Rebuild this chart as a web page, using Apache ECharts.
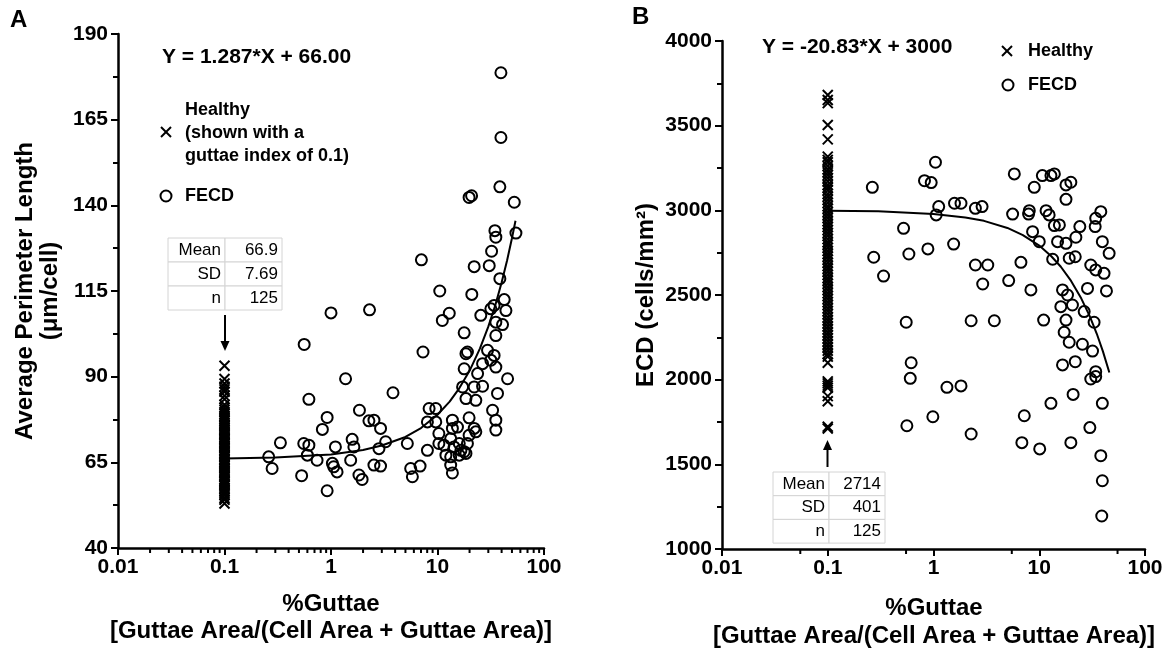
<!DOCTYPE html>
<html>
<head>
<meta charset="utf-8">
<script src="https://cdn.jsdelivr.net/npm/echarts@6/dist/echarts.min.js"></script>
<style>
  html, body { margin: 0; padding: 0; background: #fff; }
  #chart { width: 1168px; height: 653px; }
</style>
</head>
<body>
<div id="chart"></div>
<script>
// ---- data ----
// panel A: average perimeter length vs %guttae
const healthyA = [93.2, 89.3, 88.0, 87.1, 86.3, 85.6, 84.4, 83.4, 81.8, 81.0, 80.3, 79.7, 79.1, 78.4, 78.0, 77.5,
  77.1, 76.4, 76.0, 75.7, 75.1, 74.6, 74.3, 73.7, 73.2, 72.9, 72.3, 71.9, 71.6, 71.0, 70.6, 70.3, 69.7, 69.3,
  69.0, 68.5, 68.2, 67.6, 67.2, 66.9, 66.6, 66.0, 65.6, 65.2, 64.9, 64.3, 64.0, 63.5, 63.2, 62.6, 62.2, 61.9,
  61.3, 60.9, 60.6, 60.0, 59.5, 59.2, 58.6, 58.2, 57.5, 57.1, 56.4, 55.9, 55.4, 54.6, 54.1, 53.0];
const fecdA = [
  [39.4, 178.7], [39.4, 159.8], [38.5, 145.4], [19.8, 142.3], [20.9, 142.8], [52.6, 140.9], [34.6, 132.6],
  [35.3, 130.7], [54.5, 131.9], [32.2, 126.6], [7.06, 124.1], [22.1, 122.1], [30.6, 122.4], [38.5, 118.6],
  [10.5, 115.0], [21.0, 114.0], [42.3, 112.5], [34.0, 110.8], [43.9, 109.3], [25.5, 107.9], [31.7, 109.8],
  [12.9, 108.5], [11.1, 106.4], [35.3, 105.9], [40.8, 105.2], [35.3, 102.0], [17.8, 102.8], [1.0, 108.6],
  [2.3, 109.5], [0.56, 99.4], [7.31, 97.2], [19.1, 97.2], [18.5, 96.7], [29.5, 97.7], [34.0, 96.2],
  [31.7, 94.8], [17.8, 92.3], [23.8, 90.9], [35.3, 92.8], [26.5, 93.8], [45.5, 89.4], [1.37, 89.4],
  [0.62, 83.4], [3.82, 85.3], [17.2, 87.0], [22.1, 87.0], [26.5, 87.2], [18.5, 83.6], [22.9, 83.1],
  [36.6, 85.1], [32.9, 80.2], [35.3, 77.3], [35.3, 74.4], [1.85, 80.2], [8.34, 80.7], [9.63, 80.7],
  [8.04, 76.8], [9.63, 76.8], [13.8, 77.3], [19.8, 78.0], [0.92, 78.1], [0.83, 74.6], [2.27, 77.1],
  [2.53, 77.3], [2.92, 74.9], [13.8, 74.9], [15.4, 75.3], [22.1, 74.9], [22.9, 73.9], [19.8, 72.9],
  [0.335, 70.7], [0.555, 70.5], [0.62, 70.0], [1.1, 69.5], [1.58, 71.7], [1.64, 69.5], [3.26, 71.0],
  [2.82, 69.0], [5.21, 70.5], [10.3, 73.4], [10.3, 70.5], [11.5, 70.0], [13.3, 71.9], [16.0, 70.5],
  [14.3, 69.5], [16.6, 68.5], [19.1, 70.5], [17.8, 68.1], [16.0, 67.1], [8.04, 68.5], [12.0, 67.1],
  [13.3, 66.6], [0.26, 66.6], [0.6, 67.1], [0.74, 65.6], [1.03, 64.7], [1.06, 63.7], [1.14, 62.2],
  [1.53, 65.6], [2.53, 64.2], [2.92, 63.9], [5.6, 63.2], [6.86, 63.9], [5.81, 60.8], [0.28, 63.2],
  [0.53, 61.1], [1.83, 61.3], [1.96, 60.0], [0.92, 56.7], [13.3, 64.2], [13.8, 61.9], [18.5, 67.6]
];
const fitAX = [0.1, 0.3, 1, 2, 3, 5, 7, 10, 13, 16, 20, 25, 30, 35, 40, 45, 50, 54];
const fitAY = [66.1, 66.4, 67.3, 68.6, 69.9, 72.4, 75.0, 78.9, 82.7, 86.6, 91.7, 98.2, 104.6, 111.0, 117.5, 123.9, 130.4, 135.5];

// panel B: ECD vs %guttae
const healthyB = [3681, 3652, 3633, 3504, 3419, 3317, 3298, 3284, 3262, 3241, 3225, 3208, 3190, 3171, 3150, 3133,
  3118, 3097, 3080, 3062, 3044, 3025, 3009, 2990, 2972, 2955, 2936, 2918, 2902, 2884, 2866, 2849, 2830, 2812,
  2797, 2779, 2760, 2742, 2726, 2709, 2690, 2671, 2655, 2637, 2619, 2600, 2584, 2566, 2547, 2530, 2511, 2494,
  2476, 2458, 2441, 2422, 2405, 2387, 2368, 2351, 2333, 2314, 2297, 2279, 2262, 2244, 2226, 2208, 2190, 2171,
  2152, 2136, 2100, 1990, 1978, 1965, 1952, 1903, 1873, 1722, 1712];
const fecdB = [
  [0.264, 3136], [0.521, 2894], [0.272, 2723], [0.337, 2612], [0.585, 2742], [0.885, 2772], [0.822, 3175],
  [0.951, 3164], [1.044, 3284], [1.12, 3022], [1.06, 2973], [1.55, 2801], [1.58, 3042], [1.82, 3042],
  [2.49, 3012], [2.88, 3022], [2.49, 2677], [3.26, 2677], [2.92, 2565], [5.14, 2585], [5.81, 3215],
  [5.6, 2978], [6.71, 2693], [8.34, 2530], [8.05, 2998], [7.93, 2978], [8.97, 3136], [8.65, 2874],
  [10.0, 2815], [10.7, 3205], [12.9, 3205], [13.9, 3215], [11.6, 2998], [12.4, 2973], [13.9, 2910],
  [15.5, 2914], [14.9, 2815], [17.9, 2805], [13.4, 2711], [19.2, 2717], [21.9, 2726], [17.9, 3065],
  [17.9, 3150], [19.9, 3166], [22.2, 2841], [24.2, 2904], [33.8, 2904], [34.2, 2953], [38.2, 2992],
  [39.5, 2815], [45.8, 2746], [30.7, 2677], [34.2, 2648], [41.0, 2628], [28.6, 2539], [43.2, 2524],
  [16.6, 2530], [18.5, 2500], [0.552, 2339], [2.27, 2348], [3.76, 2348], [11.0, 2352], [16.0, 2431],
  [20.6, 2441], [26.6, 2402], [17.9, 2352], [33.0, 2339], [17.2, 2280], [19.2, 2221], [25.6, 2209],
  [31.9, 2169], [0.615, 2100], [0.603, 2008], [1.34, 1955], [1.82, 1963], [16.6, 2087], [21.9, 2106],
  [34.2, 2047], [30.7, 2004], [34.2, 2018], [39.5, 1860], [12.9, 1860], [20.9, 1913], [7.22, 1787],
  [0.986, 1781], [0.56, 1728], [2.27, 1679], [6.85, 1628], [10.1, 1591], [19.9, 1628], [30.1, 1717],
  [38.2, 1551], [39.5, 1403], [39.0, 1195]
];
const fitBX = [0.1, 0.3, 1, 2, 3, 5, 7, 10, 13, 16, 20, 25, 30, 35, 40, 46];
const fitBY = [2998, 2994, 2979, 2958, 2938, 2896, 2854, 2792, 2729, 2667, 2583, 2479, 2375, 2271, 2167, 2042];

// axes
const xMin = 0.01, xMax = 100;
const yAMin = 40, yAMax = 190, yAStep = 25;
const yBMin = 1000, yBMax = 4000, yBStep = 500;
const minorTicksA = [0.02, 0.03, 0.04, 0.05, 0.06, 0.07, 0.08, 0.09, 0.2, 0.3, 0.4, 0.5, 0.6, 0.7, 0.8, 0.9,
  2, 3, 4, 5, 6, 7, 8, 9, 20, 30, 40, 50, 60, 70, 80, 90];
const minorTicksB = [0.055, 0.55, 5.5, 55];

const statsA = [['Mean', '66.9'], ['SD', '7.69'], ['n', '125']];
const statsB = [['Mean', '2714'], ['SD', '401'], ['n', '125']];

const FONT = "'Liberation Sans', Arial, Helvetica, sans-serif";
const chart = echarts.init(document.getElementById('chart'));

const crossPath = 'path://M0,0L10,10M10,0L0,10';

function xAxisCfg(grid) {
  return {
    type: 'log', logBase: 10, min: xMin, max: xMax, gridIndex: grid,
    axisLine: { lineStyle: { color: '#000', width: 2.5 } },
    axisTick: { length: 7, lineStyle: { color: '#000', width: 2 } },
    axisLabel: {
      color: '#000', fontFamily: FONT, fontWeight: 'bold', fontSize: 21, margin: 9,
      formatter: v => String(parseFloat(v.toPrecision(3)))
    },
    splitLine: { show: false }
  };
}
function yAxisCfg(grid, min, max, step) {
  return {
    type: 'value', min: min, max: max, interval: step, gridIndex: grid,
    axisLine: { show: true, lineStyle: { color: '#000', width: 2.5 } },
    axisTick: { show: true, length: 7, lineStyle: { color: '#000', width: 2 } },
    minorTick: { show: true, splitNumber: 2, length: 5, lineStyle: { color: '#000', width: 2 } },
    axisLabel: {
      color: '#000', fontFamily: FONT, fontWeight: 'bold', fontSize: 21, margin: 10,
      formatter: v => String(v)
    },
    splitLine: { show: false }
  };
}

function minorTickSeries(xi, yi, ticks, yBase) {
  return {
    type: 'custom', xAxisIndex: xi, yAxisIndex: yi, silent: true, clip: false,
    data: ticks.map(v => [v, yBase]),
    renderItem: (params, api) => {
      const p = api.coord([api.value(0), api.value(1)]);
      return {
        type: 'line',
        shape: { x1: p[0], y1: p[1], x2: p[0], y2: p[1] + 5 },
        style: { stroke: '#000', lineWidth: 2 }
      };
    }
  };
}

function txt(x, y, text, size, opts) {
  opts = opts || {};
  return {
    type: 'text', x: x, y: y, rotation: opts.rotation || 0, z: 100,
    style: {
      text: text, fill: '#000', align: opts.align || 'left', verticalAlign: 'middle',
      font: (opts.weight || 'bold') + ' ' + size + 'px ' + FONT
    }
  };
}
function crossIcon(cx, cy) {
  const h = 5;
  return [
    { type: 'line', z: 100, shape: { x1: cx - h, y1: cy - h, x2: cx + h, y2: cy + h }, style: { stroke: '#000', lineWidth: 2 } },
    { type: 'line', z: 100, shape: { x1: cx + h, y1: cy - h, x2: cx - h, y2: cy + h }, style: { stroke: '#000', lineWidth: 2 } }
  ];
}
function circleIcon(cx, cy) {
  return { type: 'circle', z: 100, shape: { cx: cx, cy: cy, r: 5.5 }, style: { fill: 'none', stroke: '#000', lineWidth: 2 } };
}
function statsTable(x0, y0, colSplit, x1, rowH, rows) {
  const els = [];
  rows.forEach((r, i) => {
    const y = y0 + i * rowH;
    els.push({ type: 'rect', z: 90, shape: { x: x0, y: y, width: colSplit - x0, height: rowH },
      style: { fill: '#fff', stroke: '#d4d4d4', lineWidth: 1 } });
    els.push({ type: 'rect', z: 90, shape: { x: colSplit, y: y, width: x1 - colSplit, height: rowH },
      style: { fill: '#fff', stroke: '#d4d4d4', lineWidth: 1 } });
    els.push(txt(colSplit - 4, y + rowH / 2, r[0], 17, { align: 'right', weight: 'normal' }));
    els.push(txt(x1 - 4, y + rowH / 2, r[1], 17, { align: 'right', weight: 'normal' }));
  });
  return els;
}
function arrow(x, yFrom, yTo) {
  const dir = yTo > yFrom ? 1 : -1;
  return [
    { type: 'line', z: 100, shape: { x1: x, y1: yFrom, x2: x, y2: yTo - dir * 8 }, style: { stroke: '#000', lineWidth: 2 } },
    { type: 'polygon', z: 100, shape: { points: [[x - 4.5, yTo - dir * 10], [x + 4.5, yTo - dir * 10], [x, yTo]] }, style: { fill: '#000' } }
  ];
}

const scatterCross = (xi, yi, vals, name) => ({
  name: name, type: 'scatter', xAxisIndex: xi, yAxisIndex: yi, z: 4,
  data: vals.map(v => [0.1, v]),
  symbol: crossPath, symbolSize: 10,
  itemStyle: { color: 'rgba(0,0,0,0)', borderColor: '#000', borderWidth: 2, opacity: 1 }
});
const scatterCircle = (xi, yi, pts, name) => ({
  name: name, type: 'scatter', xAxisIndex: xi, yAxisIndex: yi, z: 3,
  data: pts, symbol: 'circle', symbolSize: 11,
  itemStyle: { color: 'rgba(255,255,255,0)', borderColor: '#000', borderWidth: 2, opacity: 1 }
});
const fitLine = (xi, yi, xs, ys) => ({
  type: 'line', xAxisIndex: xi, yAxisIndex: yi, z: 2, showSymbol: false, symbol: 'none', smooth: false,
  data: xs.map((x, i) => [x, ys[i]]),
  lineStyle: { color: '#000', width: 2 }
});

const graphics = [].concat(
  [txt(10, 20, 'A', 24), txt(632, 17, 'B', 24)],
  // panel A texts
  [txt(162, 57, 'Y = 1.287*X + 66.00', 21)],
  [txt(185, 110, 'Healthy', 18), txt(185, 133, '(shown with a', 18), txt(185, 156, 'guttae index of 0.1)', 18)],
  crossIcon(166, 132), [circleIcon(166, 196), txt(185, 196, 'FECD', 18)],
  statsTable(168, 238, 225, 282, 24, statsA),
  arrow(225, 315, 351),
  [txt(25, 291, 'Average Perimeter Length', 24, { align: 'center', rotation: Math.PI / 2 }),
   txt(50, 291, '(μm/cell)', 24, { align: 'center', rotation: Math.PI / 2 }),
   txt(331, 604, '%Guttae', 24, { align: 'center' }),
   txt(331, 631, '[Guttae Area/(Cell Area + Guttae Area)]', 24, { align: 'center' })],
  // panel B texts
  [txt(762, 47, 'Y = -20.83*X + 3000', 21)],
  crossIcon(1007, 51), [txt(1028, 51, 'Healthy', 18), circleIcon(1008, 85), txt(1028, 85, 'FECD', 18)],
  statsTable(773, 472, 829, 885, 23.7, statsB),
  arrow(827.5, 467, 440),
  [txt(646, 295, 'ECD (cells/mm²)', 24, { align: 'center', rotation: Math.PI / 2 }),
   txt(934, 608, '%Guttae', 24, { align: 'center' }),
   txt(934, 636, '[Guttae Area/(Cell Area + Guttae Area)]', 24, { align: 'center' })]
);

const option = {
  backgroundColor: '#fff',
  animation: false,
  grid: [
    { left: 118, right: 624, top: 34, bottom: 105 },
    { left: 722, right: 23, top: 41, bottom: 104 }
  ],
  xAxis: [xAxisCfg(0), xAxisCfg(1)],
  yAxis: [yAxisCfg(0, yAMin, yAMax, yAStep), yAxisCfg(1, yBMin, yBMax, yBStep)],
  series: [
    fitLine(0, 0, fitAX, fitAY),
    scatterCircle(0, 0, fecdA, 'FECD'),
    scatterCross(0, 0, healthyA, 'Healthy'),
    minorTickSeries(0, 0, minorTicksA, yAMin),
    fitLine(1, 1, fitBX, fitBY),
    scatterCircle(1, 1, fecdB, 'FECD'),
    scatterCross(1, 1, healthyB, 'Healthy'),
    minorTickSeries(1, 1, minorTicksB, yBMin)
  ],
  graphic: graphics
};
chart.setOption(option);
</script>
</body>
</html>
